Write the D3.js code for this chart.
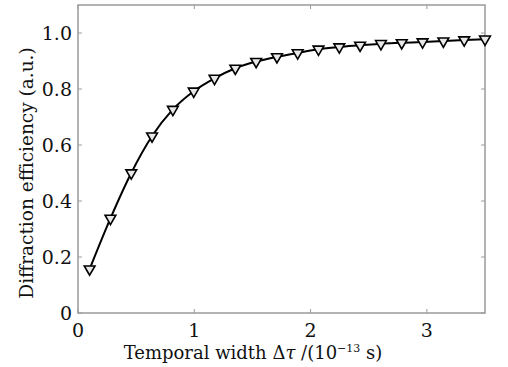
<!DOCTYPE html>
<html>
<head>
<meta charset="utf-8">
<script src="https://cdn.jsdelivr.net/npm/d3@7"></script>
<style>
  body { margin: 0; background: #fff; }
  svg { display: block; }
  text { font-family: "DejaVu Serif", serif; fill: #111; }
  .frame line, .frame rect { stroke: #9a9a9a; }
</style>
</head>
<body>
<div id="chart"></div>
<script>
var width = 508, height = 367;
var margin = { top: 5, right: 23, bottom: 54, left: 78 };

// temporal width (1e-13 s) and diffraction efficiency
var widths = [0.1, 0.279, 0.458, 0.637, 0.816, 0.995, 1.174, 1.353, 1.532, 1.711,
    1.889, 2.068, 2.247, 2.426, 2.605, 2.784, 2.963, 3.142, 3.321, 3.5];
var efficiency = [0.157, 0.338, 0.500, 0.632, 0.727, 0.792, 0.838, 0.874, 0.898, 0.915,
    0.929, 0.942, 0.950, 0.956, 0.962, 0.965, 0.968, 0.971, 0.975, 0.978];
var xTicks = [0, 1, 2, 3];
var yTicks = [0, 0.2, 0.4, 0.6, 0.8, 1.0];

var data = widths.map((w, i) => ({ x: w, y: efficiency[i] }));

var svg = d3.select('#chart').append('svg')
    .attr('width', width)
    .attr('height', height);

var iw = width - margin.left - margin.right,
    ih = height - margin.top - margin.bottom;

var x = d3.scaleLinear().domain([0, 3.5]).range([0, iw]);
var y = d3.scaleLinear().domain([0, 1.1]).range([ih, 0]);

var g = svg.append('g')
    .attr('transform', 'translate(' + margin.left + ',' + margin.top + ')');

// frame with small inward ticks on every side
var frame = g.append('g').attr('class', 'frame');
frame.append('rect')
    .attr('width', iw).attr('height', ih)
    .attr('fill', 'none').attr('stroke-width', 1.5);

var tickLen = 4;
frame.selectAll('.xb').data(xTicks).enter().append('line')
    .attr('x1', d => x(d)).attr('x2', d => x(d))
    .attr('y1', ih).attr('y2', ih - tickLen);
frame.selectAll('.xt').data(xTicks).enter().append('line')
    .attr('x1', d => x(d)).attr('x2', d => x(d))
    .attr('y1', 0).attr('y2', tickLen);
frame.selectAll('.yl').data(yTicks).enter().append('line')
    .attr('y1', d => y(d)).attr('y2', d => y(d))
    .attr('x1', 0).attr('x2', tickLen);
frame.selectAll('.yr').data(yTicks).enter().append('line')
    .attr('y1', d => y(d)).attr('y2', d => y(d))
    .attr('x1', iw).attr('x2', iw - tickLen);

// tick labels
g.selectAll('.xlab').data(xTicks).enter().append('text')
    .attr('x', d => x(d))
    .attr('y', ih + 24)
    .attr('text-anchor', 'middle')
    .style('font-size', '19px')
    .text(d => d);

g.selectAll('.ylab').data(yTicks).enter().append('text')
    .attr('x', -6)
    .attr('y', d => y(d))
    .attr('dy', '0.36em')
    .attr('text-anchor', 'end')
    .style('font-size', '19px')
    .text(d => d === 0 ? '0' : d.toFixed(1));

// axis titles
var xt = svg.append('text')
    .attr('x', 253)
    .attr('y', 359)
    .attr('text-anchor', 'middle')
    .style('font-size', '18px');
xt.append('tspan').text('Temporal width \u0394');
xt.append('tspan').style('font-style', 'italic').text('\u03c4');
xt.append('tspan').text(' /(10');
xt.append('tspan').attr('dy', -7).style('font-size', '11px').text('\u221213');
xt.append('tspan').attr('dy', 7).text(' s)');

svg.append('text')
    .attr('transform', 'translate(33,173) rotate(-90)')
    .attr('text-anchor', 'middle')
    .style('font-size', '18.5px')
    .text('Diffraction efficiency (a.u.)');

// curve
var line = d3.line()
    .x(d => x(d.x))
    .y(d => y(d.y))
    .curve(d3.curveMonotoneX);

g.append('path')
    .datum(data)
    .attr('d', line)
    .attr('fill', 'none')
    .attr('stroke', '#000')
    .attr('stroke-width', 2);

// down-pointing triangle markers
var tri = d3.symbol().type(d3.symbolTriangle).size(50);
g.selectAll('.marker').data(data).enter().append('path')
    .attr('d', tri)
    .attr('transform', d => 'translate(' + x(d.x) + ',' + y(d.y) + ') rotate(180)')
    .attr('fill', '#e8e8e8')
    .attr('stroke', '#000')
    .attr('stroke-width', 1.6);
</script>
</body>
</html>
